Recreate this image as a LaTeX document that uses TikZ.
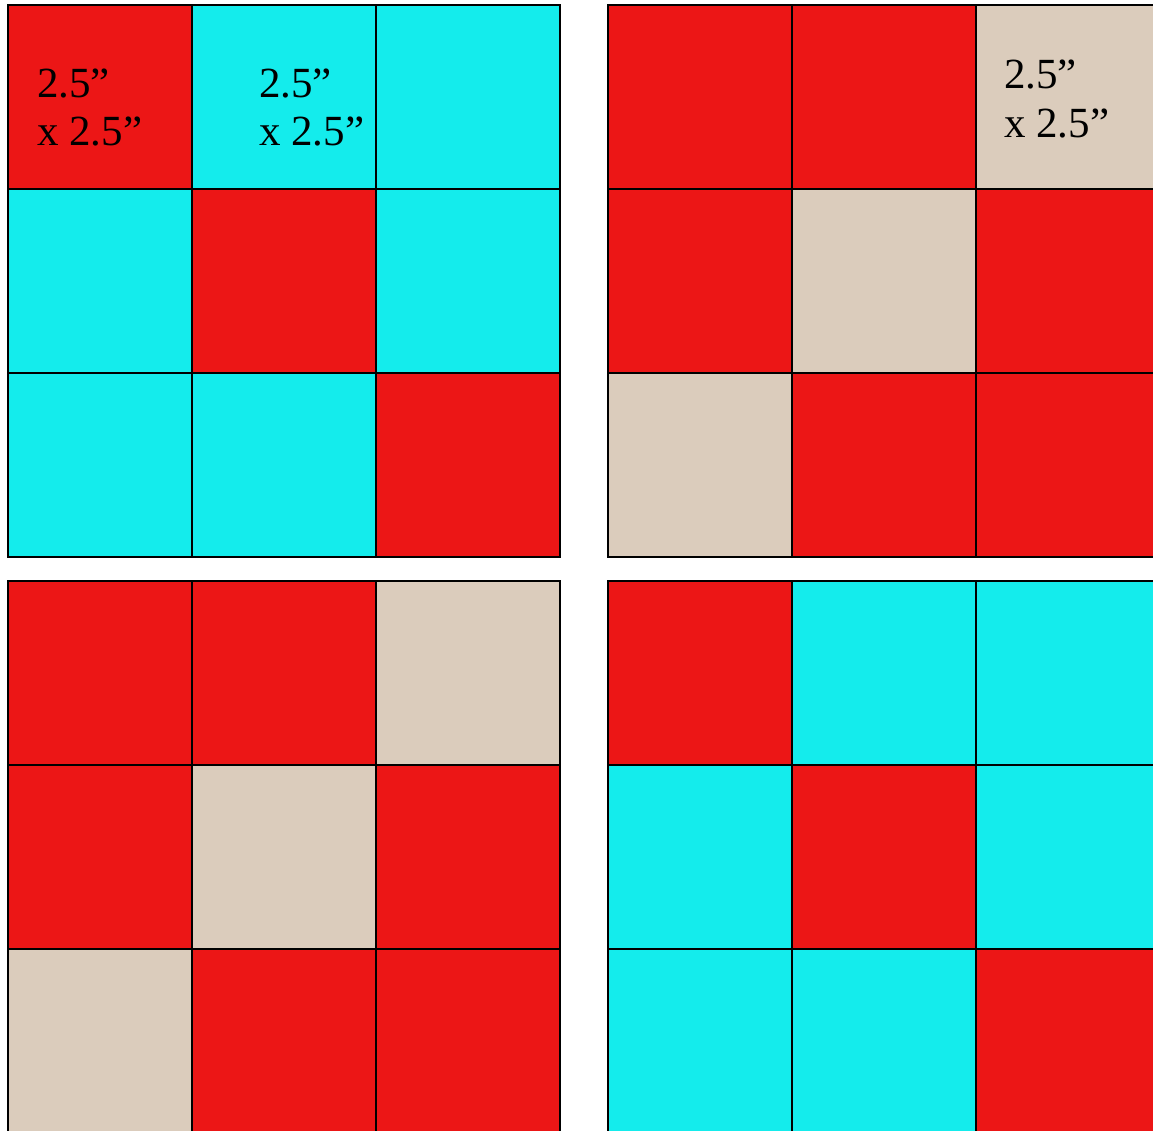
\documentclass[tikz,border=0pt]{standalone}
\usepackage{fontspec}
\setmainfont{Liberation Serif}
\definecolor{qred}{RGB}{236,22,22}
\definecolor{qcyan}{RGB}{20,236,236}
\definecolor{qbeige}{RGB}{219,204,188}
\tikzset{
  cell/.style={draw=black, line width=2.4pt},
  lbl/.style={anchor=base west, inner sep=0pt, font=\fontsize{43}{48}\selectfont}
}
\newcommand{\qblock}[5]{% x0, y0, colors row1, row2, row3 as lists
  \foreach \c [count=\i from 0] in {#3} {\filldraw[cell, fill=\c] (#1+\i*184,#2) rectangle ++(184,184);}
  \foreach \c [count=\i from 0] in {#4} {\filldraw[cell, fill=\c] (#1+\i*184,#2+184) rectangle ++(184,184);}
  \foreach \c [count=\i from 0] in {#5} {\filldraw[cell, fill=\c] (#1+\i*184,#2+368) rectangle ++(184,184);}
}
\begin{document}
\begin{tikzpicture}[x=1pt,y=-1pt]
\useasboundingbox (0,0) rectangle (1153,1130);
\fill[white] (0,0) rectangle (1153,1130);
\clip (0,0) rectangle (1153,1130);
\qblock{8}{5}{qred,qcyan,qcyan}{qcyan,qred,qcyan}{qcyan,qcyan,qred}
\qblock{608}{5}{qred,qred,qbeige}{qred,qbeige,qred}{qbeige,qred,qred}
\qblock{8}{581}{qred,qred,qbeige}{qred,qbeige,qred}{qbeige,qred,qred}
\qblock{608}{581}{qred,qcyan,qcyan}{qcyan,qred,qcyan}{qcyan,qcyan,qred}
\node[lbl] (a1) at (37,97) {2.5”};
\node[lbl] (a2) at (37,145) {x 2.5”};
\node[lbl] (b1) at (259,97) {2.5”};
\node[lbl] (b2) at (259,145) {x 2.5”};
\node[lbl] (c1) at (1004,88) {2.5”};
\node[lbl] (c2) at (1004,137) {x 2.5”};
\end{tikzpicture}
\end{document}
